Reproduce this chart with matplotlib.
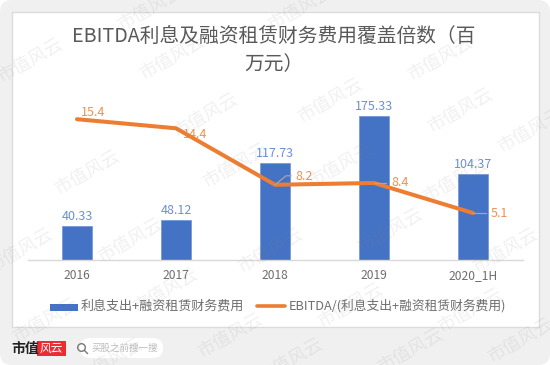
import matplotlib
matplotlib.use('Agg')
import matplotlib.pyplot as plt
from matplotlib.patches import FancyBboxPatch, Rectangle, Circle
from matplotlib.lines import Line2D

plt.rcParams['font.family'] = ['Noto Sans CJK SC', 'DejaVu Sans']

#chart data
years = ['2016', '2017', '2018', '2019', '2020_1H']
cost = [40.33, 48.12, 117.73, 175.33, 104.37]
cover = [15.4, 14.4, 8.2, 8.4, 5.1]
cost_name = '利息支出+融资租赁财务费用'
cover_name = 'EBITDA/(利息支出+融资租赁财务费用)'
title = 'EBITDA利息及融资租赁财务费用覆盖倍数（百\n万元）'

W, H = 550, 365
blue = '#4472C4'
orange = '#ED7D31'
gray = '#6E6E6E'

fig = plt.figure(figsize=(W / 100, H / 100), dpi=100, facecolor='white')

#background card, in pixel coords
bg = fig.add_axes([0, 0, 1, 1], zorder=0)
bg.set_xlim(0, W)
bg.set_ylim(H, 0)
bg.axis('off')
bg.add_patch(FancyBboxPatch((6, 6), W - 12, H - 12, boxstyle='round,pad=6,rounding_size=12',
                            fc='#F0F0F0', ec='none'))
bg.add_patch(Rectangle((11.5, 12), 527, 315, fc='white', ec='#DCDCDC', lw=1))

#bars
left, right, top, base = 27.5, 522.5, 95.5, 259.5
ax = fig.add_axes([left / W, 1 - base / H, (right - left) / W, (base - top) / H], zorder=1)
ax.patch.set_alpha(0)
x = range(len(years))
ax.bar(x, cost, width=0.31, color=blue, edgecolor='#6F94D6', linewidth=0.5)
ax.set_xlim(-0.5, 4.5)
ax.set_ylim(0, 200)
ax.set_yticks([])
ax.set_xticks(list(x))
ax.set_xticklabels(years, fontsize=8.7, color=gray)
ax.tick_params(axis='x', length=0, pad=7)
for s in ['top', 'left', 'right']:
    ax.spines[s].set_visible(False)
ax.spines['bottom'].set_color('#D9D9D9')
ax.spines['bottom'].set_linewidth(1)

for i, v in enumerate(cost):
    ax.annotate('%.2f' % v, (i, v), xytext=(0, 9.5), textcoords='offset pixels', ha='center', va='center',
                fontsize=9, color='#6C90D2')

#line on second axis
ax2 = ax.twinx()
ax2.patch.set_alpha(0)
ax2.set_ylim(0, 18)
ax2.set_yticks([])
for s in ['top', 'left', 'right', 'bottom']:
    ax2.spines[s].set_visible(False)

#leader lines (offsets from the point, pixels)
leaders = {2: [(0, 0), (11, 9), (16, 9)], 3: [(0, 0), (12, 0)], 4: [(0, 0), (13, 0)]}
for i, pts in leaders.items():
    for a, b in zip(pts[:-1], pts[1:]):
        ax2.annotate('', (i, cover[i]), xycoords='data', xytext=(0, 0), alpha=0)
        ax2.annotate('', xy=(b[0], b[1]), xytext=(a[0], a[1]), xycoords=('offset pixels'),
                     textcoords='offset pixels', annotation_clip=False) if False else None
    ox, oy = ax2.transData.transform((i, cover[i]))
    fig.add_artist(Line2D([(ox + p[0]) / W for p in pts], [(oy + p[1]) / H for p in pts],
                          color='#A6A6A6', lw=0.9, zorder=2))

ax2.plot(list(x), cover, color=orange, lw=2.9, solid_capstyle='round', solid_joinstyle='round', zorder=5)

offsets = [(16, 7), (19, -6), (29, 8), (26, 0), (26, 0)]
for i, v in enumerate(cover):
    ax2.annotate('%.1f' % v, (i, v), xytext=offsets[i], textcoords='offset pixels', ha='center', va='center',
                 fontsize=9, color='#F0914F')

#title
bg.text(274, 51, title, ha='center', va='center', fontsize=14.2, color='#595959', linespacing=1.45)

#legend
bg.add_patch(Rectangle((50, 304), 28, 7, fc=blue, ec='none'))
bg.text(81, 306, cost_name, ha='left', va='center', fontsize=9.4, color=gray)
bg.add_line(Line2D([257, 285], [306, 306], color=orange, lw=2.6, solid_capstyle='round'))
bg.text(289, 306, cover_name, ha='left', va='center', fontsize=9.2, color=gray)

#logo and search box
bg.text(11, 349, '市值', ha='left', va='center', fontsize=10, color='#222222', fontweight='bold',
        family=['Noto Sans CJK SC'])
bg.add_patch(Rectangle((37, 341), 29, 15, fc='#EE2A33', ec='none'))
bg.text(51.5, 348.5, '风云', ha='center', va='center', fontsize=8.5, color='white', style='italic')
bg.add_patch(FancyBboxPatch((80, 338), 83, 20, boxstyle='round,pad=0,rounding_size=10', fc='white', ec='none'))
bg.add_patch(Circle((81.5, 347.5), 3.8, fc='none', ec='#777777', lw=1))
bg.add_line(Line2D([84.5, 87.5], [350.5, 353.5], color='#777777', lw=1))
bg.text(92, 348, '买股之前搜一搜', ha='left', va='center', fontsize=6.8, color='#BBBBBB')

#watermark
marks = [(30, 60), (172, 57), (300, 8), (440, 58), (150, 8), (87, 172), (205, 115), (330, 100), (460, 110),
         (20, 250), (130, 240), (235, 165), (340, 165), (455, 180), (530, 130), (45, 320), (165, 290), (270, 250),
         (390, 230), (505, 250), (110, 360), (230, 335), (350, 305), (470, 310), (290, 360), (410, 350), (520, 340)]
for mx, my in marks:
    fig.text(mx / W, 1 - my / H, '市值风云', rotation=30, ha='center', va='center', fontsize=13,
             color='#888888', alpha=0.12, zorder=10)

fig.savefig('out.png', dpi=100)
